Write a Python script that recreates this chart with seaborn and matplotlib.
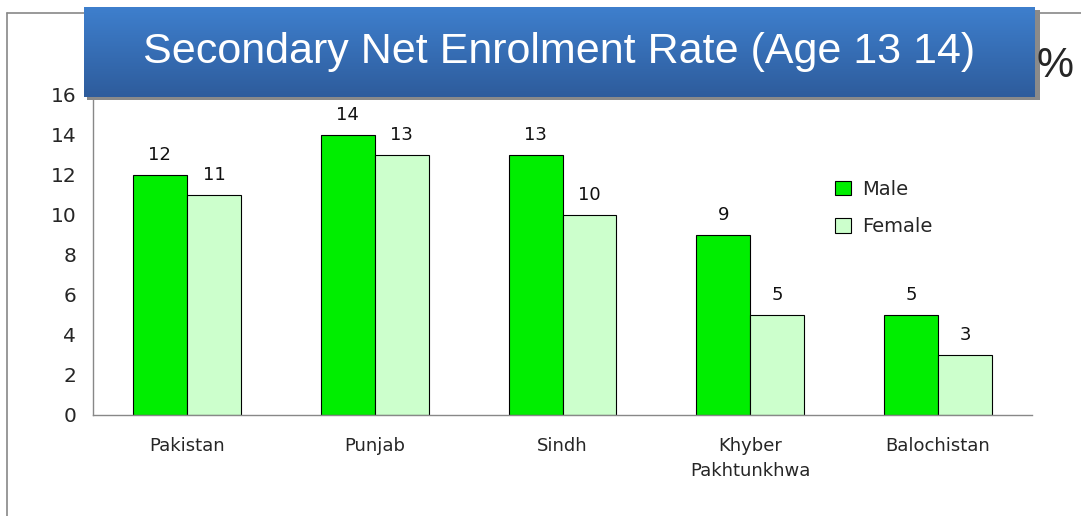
import numpy as np
import pandas as pd
import matplotlib.pyplot as plt
import seaborn as sns
from matplotlib.patches import Rectangle
from matplotlib.lines import Line2D

# Data
regions = ['Pakistan', 'Punjab', 'Sindh', 'Khyber\nPakhtunkhwa', 'Balochistan']
male = [12, 14, 13, 9, 5]
female = [11, 13, 10, 5, 3]
yticks = [0, 2, 4, 6, 8, 10, 12, 14, 16]

df = pd.DataFrame({
    'region': regions * 2,
    'value': male + female,
    'sex': ['Male'] * len(regions) + ['Female'] * len(regions),
})

sns.set_style("white")
plt.rcParams['font.family'] = ['DejaVu Sans']

W, H = 1081, 516
fig = plt.figure(figsize=(W / 100, H / 100), dpi=100)

# outer frame lines (left and top), behind everything
fig.add_artist(Line2D([7 / W, 7 / W], [0, 1 - 13 / H], color='#888888', lw=1.2, zorder=-5))
fig.add_artist(Line2D([7 / W, 1], [1 - 13 / H, 1 - 13 / H], color='#888888', lw=1.2, zorder=-5))

ax = fig.add_axes([93 / W, 1 - 415 / H, (1032 - 93) / W, (415 - 95) / H])
sns.barplot(data=df, x='region', y='value', hue='sex', order=regions,
            palette={'Male': '#00EE00', 'Female': '#CCFFCC'}, saturation=1,
            width=0.575, edgecolor='black', linewidth=0.8, ax=ax)

for c in ax.containers:
    ax.bar_label(c, padding=8, fontsize=13, color='#111111')

ax.set_ylim(0, 16)
ax.set_xlim(-0.5, len(regions) - 0.5)
ax.set_yticks(yticks)
ax.set_xlabel('')
ax.set_ylabel('')
ax.tick_params(axis='y', labelsize=14.5, length=7, color='#888888', direction='out', pad=5)
ax.tick_params(axis='x', which='major', length=0, labelsize=13, pad=16)
ax.set_xticks(np.arange(-0.5, len(regions)), minor=True)
ax.tick_params(axis='x', which='minor', length=6, color='#888888', direction='out')
for lbl in ax.get_xticklabels():
    lbl.set_linespacing(1.5)
for s in ['top', 'right']:
    ax.spines[s].set_visible(False)
for s in ['left', 'bottom']:
    ax.spines[s].set_color('#888888')
    ax.spines[s].set_linewidth(1.0)

ax.legend(loc='upper left', bbox_to_anchor=(0.772, 0.79), frameon=False,
          fontsize=14, handlelength=0.8, handleheight=0.8, labelspacing=0.95,
          handletextpad=0.55)

# title box with gradient and shadow
sax = fig.add_axes([87 / W, 1 - 100 / H, (1037 - 84) / W, (97 - 7) / H], zorder=3)
sax.add_patch(Rectangle((0, 0), 1, 1, color='#8a8a8a'))
sax.set_axis_off()
tax = fig.add_axes([84 / W, 1 - 97 / H, (1035 - 84) / W, (97 - 7) / H], zorder=4)
grad = np.linspace(0, 1, 100).reshape(-1, 1)
top = np.array([0x3E, 0x7F, 0xCD]) / 255
bot = np.array([0x2E, 0x5C, 0x9C]) / 255
img = top + (bot - top) * grad[:, :, None]
tax.imshow(img, aspect='auto', extent=[0, 1, 0, 1])
tax.set_axis_off()
tax.text(0.5, 0.5, 'Secondary Net Enrolment Rate (Age 13 14)', color='white',
         fontsize=31, ha='center', va='center',
         family=['Liberation Sans', 'DejaVu Sans'],
         transform=tax.transAxes)

fig.text(1055 / W, 1 - 66 / H, '%', fontsize=30, ha='center', va='center',
         family=['Liberation Sans', 'DejaVu Sans'])

fig.savefig('out.png', dpi=100)
